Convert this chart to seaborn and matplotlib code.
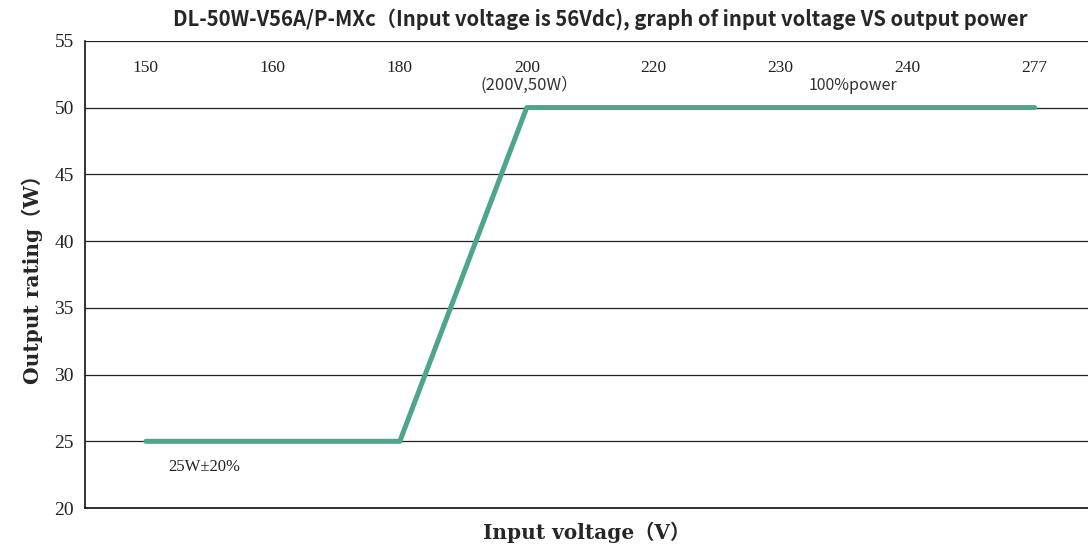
import matplotlib
matplotlib.use('Agg')
import matplotlib.pyplot as plt
import seaborn as sns
import pandas as pd

# data
voltages = ['150', '160', '180', '200', '220', '230', '240', '277']
power = [25, 25, 25, 50, 50, 50, 50, 50]
y_ticks = [20, 25, 30, 35, 40, 45, 50, 55]

sns.set_theme(style='white')
plt.rcParams['font.family'] = ['Liberation Serif', 'Noto Sans CJK SC', 'DejaVu Sans']

df = pd.DataFrame({'pos': range(len(voltages)), 'power': power})

fig = plt.figure(figsize=(10.88, 5.44), dpi=100)
ax = fig.add_axes([0.078, 0.066, 0.922, 0.859])

sns.lineplot(data=df, x='pos', y='power', ax=ax, color='#4da58c',
             linewidth=3.6, solid_capstyle='round', zorder=3)

ax.set_xlim(-0.48, len(voltages) - 0.58)
ax.set_ylim(20, 55)
ax.set_yticks(y_ticks)
ax.set_yticklabels([str(v) for v in y_ticks], fontsize=14, color='#222222')
ax.grid(axis='y', color='#222222', linewidth=0.9)
ax.grid(axis='x', visible=False)

# x tick labels sit inside the frame, just under the top line
ax.set_xticks(range(len(voltages)))
ax.set_xticklabels(voltages, fontsize=12.5, color='#222222')
ax.tick_params(axis='x', top=True, labeltop=True, bottom=False, labelbottom=False,
               length=0, pad=-25)
ax.tick_params(axis='y', direction='in', length=3, color='#222222', pad=8)

for side in ['top', 'right']:
    ax.spines[side].set_visible(False)
for side in ['left', 'bottom']:
    ax.spines[side].set_color('#111111')
    ax.spines[side].set_linewidth(1.2)

lab_font = ['DejaVu Serif', 'Noto Sans CJK SC']
ax.set_xlabel('Input voltage（V）', fontsize=14.5, fontweight='bold', labelpad=10,
              family=lab_font)
ax.set_ylabel('Output rating（W）', fontsize=14.5, fontweight='bold', labelpad=8,
              family=lab_font)

ax.text(3.02, 51.0, '(200V,50W）', ha='center', va='bottom', fontsize=12,
        family=['Noto Sans CJK SC', 'DejaVu Sans'], color='#333333')
ax.text(5.57, 51.0, '100%power', ha='center', va='bottom', fontsize=11.5,
        family=['Noto Sans CJK SC', 'DejaVu Sans'], color='#333333')
ax.text(0.46, 23.1, '25W±20%', ha='center', va='center', fontsize=12,
        color='#222222')

fig.suptitle('DL-50W-V56A/P-MXc（Input voltage is 56Vdc), graph of input voltage VS output power',
             x=0.552, y=0.985, fontsize=14.6, fontweight='bold',
             family=['Noto Sans CJK SC', 'DejaVu Sans'])

fig.savefig('out.png', dpi=100)
